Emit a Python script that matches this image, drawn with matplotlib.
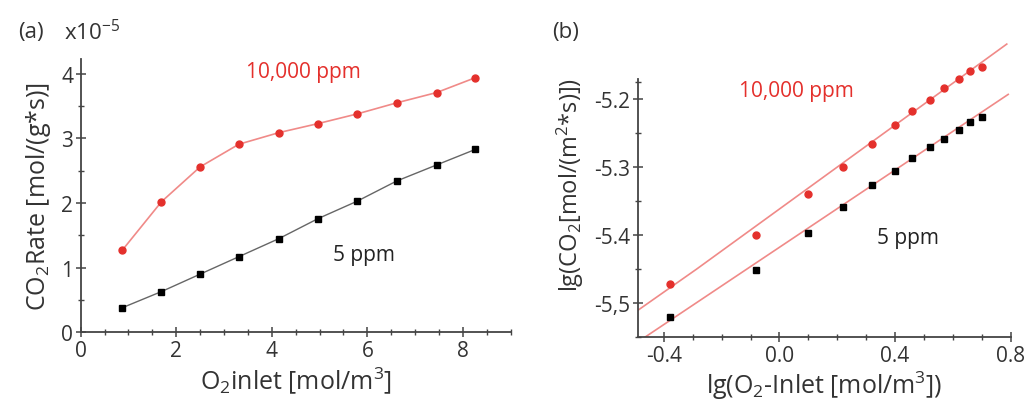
import matplotlib
matplotlib.use("Agg")
import matplotlib.pyplot as plt
from matplotlib.ticker import MultipleLocator, FixedLocator, FixedFormatter

plt.rcParams['font.family'] = ['Open Sans', 'DejaVu Sans']
plt.rcParams['mathtext.fontset'] = 'custom'
plt.rcParams['mathtext.rm'] = 'Open Sans'
plt.rcParams['mathtext.it'] = 'Open Sans'

RED = '#e4302c'
LINE_RED = '#f08a88'

# (a) CO2 rate vs O2 inlet
o2_inlet = [0.87, 1.69, 2.50, 3.31, 4.15, 4.97, 5.79, 6.61, 7.45, 8.26]
rate_10000 = [1.27, 2.02, 2.56, 2.91, 3.09, 3.23, 3.38, 3.55, 3.71, 3.94]
rate_5 = [0.38, 0.63, 0.90, 1.17, 1.45, 1.76, 2.03, 2.34, 2.59, 2.83]

# (b) log-log
lg_o2 = [-0.38, -0.08, 0.10, 0.22, 0.32, 0.40, 0.46, 0.52, 0.57, 0.62, 0.66, 0.70]
lg_10000 = [-5.472, -5.400, -5.340, -5.300, -5.266, -5.238, -5.217, -5.201,
            -5.183, -5.171, -5.159, -5.152]
lg_5 = [-5.521, -5.452, -5.397, -5.358, -5.326, -5.305, -5.286, -5.270,
        -5.259, -5.245, -5.234, -5.227]

# fit lines in (b)
fit_x_10000 = [-0.495, -0.287, 0.787]
fit_y_10000 = [-5.512, -5.450, -5.119]
fit_x_5 = [-0.483, 0.792]
fit_y_5 = [-5.555, -5.193]

fig = plt.figure(figsize=(10.28, 4.02), dpi=100)

# ---------- panel (a)
ax1 = fig.add_axes([0.0785, 0.1709, 0.4183, 0.68])
ax1.plot(o2_inlet, rate_10000, '-', color=LINE_RED, lw=1.2, zorder=2)
ax1.plot(o2_inlet, rate_10000, 'o', color=RED, ms=5, zorder=3)
ax1.plot(o2_inlet, rate_5, '-', color='#666666', lw=1.0, zorder=2)
ax1.plot(o2_inlet, rate_5, 's', color='black', ms=4.5, zorder=3)
ax1.set_xlim(0, 9)
ax1.set_ylim(0, 4.23)
ax1.xaxis.set_major_locator(MultipleLocator(2))
ax1.xaxis.set_minor_locator(MultipleLocator(0.5))
ax1.yaxis.set_major_locator(MultipleLocator(1))
ax1.yaxis.set_minor_locator(MultipleLocator(0.5))
ax1.set_xlabel('O$_2$inlet [mol/m$^3$]', fontsize=18, labelpad=2, color='#333333')
ax1.set_ylabel('CO$_2$Rate [mol/(g*s)]', fontsize=18, labelpad=6, color='#333333')
ax1.text(4.66, 4.04, '10,000 ppm', color=RED, fontsize=15, ha='center', va='center')
ax1.text(5.93, 1.21, '5 ppm', color='#222222', fontsize=15, ha='center', va='center')

# ---------- panel (b)
ax2 = fig.add_axes([0.6206, 0.159, 0.3624, 0.761])
ax2.plot(fit_x_10000, fit_y_10000, '-', color=LINE_RED, lw=1.2, zorder=2)
ax2.plot(fit_x_5, fit_y_5, '-', color=LINE_RED, lw=1.2, zorder=2)
ax2.plot(lg_o2, lg_10000, 'o', color=RED, ms=5, zorder=3)
ax2.plot(lg_o2, lg_5, 's', color='black', ms=4.5, zorder=3)
ax2.set_xlim(-0.49, 0.80)
ax2.set_ylim(-5.55, -5.10)
ax2.spines['left'].set_bounds(-5.55, -5.17)
ax2.xaxis.set_major_locator(FixedLocator([-0.4, 0.0, 0.4, 0.8]))
ax2.xaxis.set_major_formatter(FixedFormatter(['-0.4', '0.0', '0.4', '0.8']))
ax2.xaxis.set_minor_locator(MultipleLocator(0.1))
ax2.yaxis.set_major_locator(FixedLocator([-5.5, -5.4, -5.3, -5.2]))
ax2.yaxis.set_major_formatter(FixedFormatter(['-5,5', '-5.4', '-5.3', '-5.2']))
ax2.yaxis.set_minor_locator(FixedLocator([-5.55, -5.45, -5.35, -5.25, -5.175]))
ax2.set_xlabel('lg(O$_2$-Inlet [mol/m$^3$])', fontsize=18, labelpad=2, color='#333333')
ax2.set_ylabel('lg(CO$_2$[mol/(m$^2$*s)])', fontsize=17, labelpad=6, color='#333333')
ax2.text(0.057, -5.188, '10,000 ppm', color=RED, fontsize=15, ha='center', va='center')
ax2.text(0.445, -5.404, '5 ppm', color='#222222', fontsize=15, ha='center', va='center')

for ax in (ax1, ax2):
    ax.spines['top'].set_visible(False)
    ax.spines['right'].set_visible(False)
    for s in ('left', 'bottom'):
        ax.spines[s].set_color('#444444')
        ax.spines[s].set_linewidth(1.3)
    ax.tick_params(which='major', direction='inout', length=7, width=1.1,
                   labelsize=15, colors='#444444', labelcolor='#333333', pad=2)
    ax.tick_params(which='minor', direction='inout', length=5, width=1.0,
                   colors='#444444')

fig.text(0.018, 0.92, '(a)', fontsize=16, color='#333333', va='center')
fig.text(0.062, 0.92, 'x10$^{-5}$', fontsize=16, color='#333333', va='center')
fig.text(0.537, 0.92, '(b)', fontsize=16, color='#333333', va='center')

fig.savefig('out.png', dpi=100, facecolor='white')
